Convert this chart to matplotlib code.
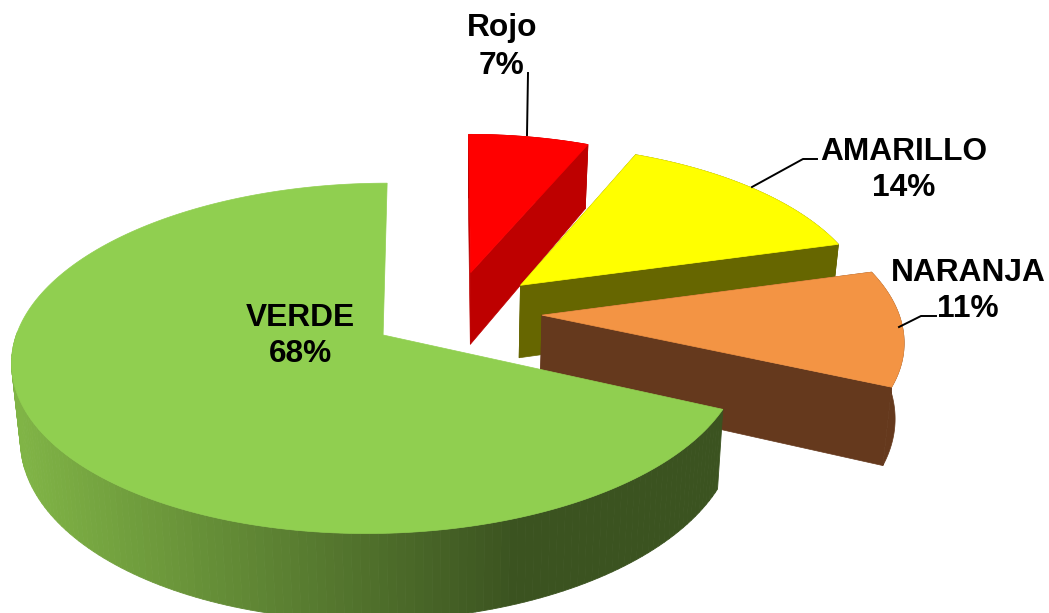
import matplotlib
matplotlib.use("Agg")
import matplotlib.pyplot as plt
import numpy as np

labels = ["Rojo", "AMARILLO", "NARANJA", "VERDE"]
values = [6.5, 14.2, 11.0, 68.3]
pct_labels = ["7%", "14%", "11%", "68%"]

top_colors = ["#FF0000", "#FFFF00", "#F39444", "#90CF50"]
side_colors = ["#BE0000", "#666600", "#65391D", None]

# pie geometry, in pixels of the picture
X0, Y0 = 451, 312
RX, RY = 360, 166
PERSP = 0.131
DEPTH = 74
SHRINK = 0.02
EXPLODE = 0.25
START = 90
slice_shift = [2, 3, 1, 4]
apex_shift = [0, 0, 0, 5]
rim_scale = [0.96, 0.975, 0.99, 0.987]


def project(u, v, z=0.0):
    s = 1.0 / (1.0 + PERSP * v)
    x = X0 + RX * u * s * (1 - SHRINK * z)
    y = Y0 - RY * v * s + DEPTH * z * s
    return x, y


def mix(c1, c2, t):
    a = np.array(matplotlib.colors.to_rgb(c1))
    b = np.array(matplotlib.colors.to_rgb(c2))
    return a + (b - a) * t


fig = plt.figure(figsize=(10.49, 6.13), dpi=100)
ax = fig.add_axes([0, 0, 1, 1])
ax.set_xlim(0, 1049)
ax.set_ylim(613, 0)
ax.axis("off")

angle = START
for i, val in enumerate(values):
    a0 = angle
    a1 = angle - val * 3.6
    angle = a1
    mid = np.radians((a0 + a1) / 2)
    du, dv = EXPLODE * np.cos(mid), EXPLODE * np.sin(mid)
    t = np.radians(np.linspace(a0, a1, 200))
    u = du + rim_scale[i] * np.cos(t)
    v = dv + np.sin(t)

    xt, yt = project(u, v, 0)
    xb, yb = project(u, v, 1)
    xa, ya = project(du, dv, 0)
    xc, yc = project(du, dv, 1)
    xt = xt + slice_shift[i]
    xb = xb + slice_shift[i]
    xa = xa + slice_shift[i] + apex_shift[i]
    xc = xc + slice_shift[i]

    if side_colors[i] is None:
        # rim with left to right shading, front part only
        for k in range(len(t) - 1):
            if np.sin(t[k]) > 0:
                continue
            f = np.clip((xt[k] - 20) / 500, 0, 1)
            col = mix("#80B446", "#3B5320", f)
            ax.fill([xt[k], xt[k + 1], xb[k + 1], xb[k]],
                    [yt[k], yt[k + 1], yb[k + 1], yb[k]],
                    color=col, lw=0.6, zorder=i + 1)
    else:
        ax.fill(np.r_[xt, xb[::-1]], np.r_[yt, yb[::-1]],
                color=side_colors[i], lw=0.5, zorder=i + 1)
        # cut faces
        for j in [0, -1]:
            ax.fill([xa, xt[j], xb[j], xc], [ya, yt[j], yb[j], yc],
                    color=side_colors[i], lw=0.5, zorder=i + 1)

    ax.fill(np.r_[xa, xt], np.r_[ya, yt], color=top_colors[i], lw=0.5, zorder=i + 1.5)

# leader lines
ax.plot([528, 527], [73, 135], color="black", lw=1.4, zorder=0.5)
ax.plot([752, 803, 817], [187, 159, 159], color="black", lw=1.4, zorder=6)
ax.plot([899, 921, 936], [327, 316, 316], color="black", lw=1.4, zorder=6)

plt.rcParams["font.family"] = ["Liberation Sans", "DejaVu Sans"]
label_pos = [(502, 47), (904, 170), (968, 291), (300, 336)]
line_gap = [1.36, 1.26, 1.26, 1.22]
for name, pct, (x, y), gap in zip(labels, pct_labels, label_pos, line_gap):
    ax.text(x, y, name + "\n" + pct, ha="center", va="center", fontsize=22.8,
            fontweight="bold", color="black", linespacing=gap, zorder=10)

fig.savefig("out.png", dpi=100)
